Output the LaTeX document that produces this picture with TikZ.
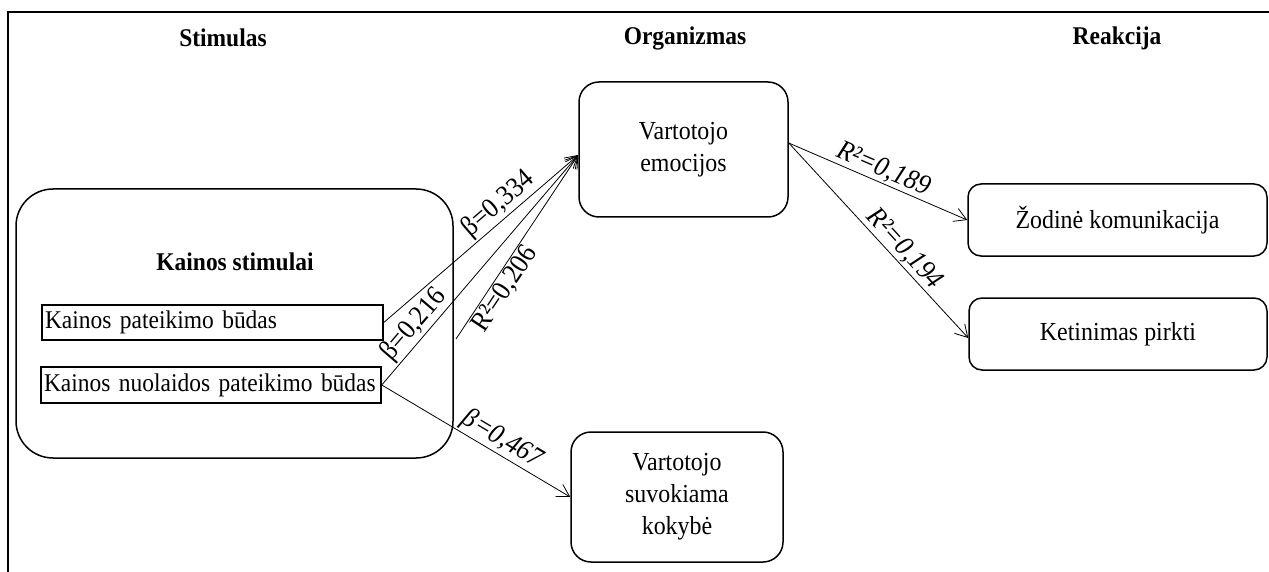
\documentclass[tikz,border=0pt]{standalone}
\usepackage{fontspec}
\setmainfont{Liberation Serif}[FakeStretch=0.92]
\usetikzlibrary{arrows.meta}
\begin{document}
\begin{tikzpicture}[x=1pt,y=-1pt,
  every node/.style={inner sep=0pt},
  frame/.style={line width=1.5pt},
  title/.style={font=\fontsize{25.5}{30}\selectfont\bfseries},
  rbox/.style={draw, line width=1.5pt, rounded corners=#1, align=center, font=\fontsize{26}{32}\selectfont},
  rbox/.default=20pt,
  sbox/.style={draw, line width=1.5pt, inner xsep=3pt, text width=#1, align=left, minimum height=36pt, font=\fontsize{25.5}{30}\selectfont},
  conn/.style={line width=0.8pt, -{Straight Barb[length=12pt,width=14pt,line width=0.8pt]}},
  lab/.style={font=\fontsize{28}{28}\selectfont, sloped, inner sep=1.5pt}
]
\useasboundingbox (0,0) rectangle (1269,572);
% outer frame (cropped on right and bottom)
\draw[frame] (1270,12) -- (8,12) -- (8,573);

% column titles
\node[title] (tstim) at (223,38) {Stimulas};
\node[title] (torg) at (685,38) {Organizmas};
\node[title] (treak) at (1117,38) {Reakcija};

% stimulus group
\node[rbox=37pt, minimum width=437pt, minimum height=269pt] (big) at (234.5,323.5) {};
\node[title] (kst) at (235,262) {Kainos stimulai};
\node[sbox=335pt, minimum height=35pt] (kp) at (212.5,322.5) {Kainos pateikimo būdas};
\node[sbox=334pt] (knp) at (211,385) {Kainos nuolaidos pateikimo būdas};

% organism
\node[rbox, minimum width=209pt, minimum height=135pt] (emo) at (683.5,149.5) {Vartotojo\\emocijos};
\node[rbox, minimum width=212pt, minimum height=130pt] (kok) at (677,497) {Vartotojo\\suvokiama\\kokybė};

% reaction
\node[rbox=13pt, minimum width=299pt, minimum height=72pt] (zod) at (1117.5,220) {Žodinė komunikacija};
\node[rbox=13pt, minimum width=298pt, minimum height=72pt] (ket) at (1118,334) {Ketinimas pirkti};

% connectors
\coordinate (emoin) at ([yshift=-5.5pt]emo.west);
\coordinate (emoout) at ([yshift=6.5pt]emo.east);
\coordinate (rfree) at (456,339);

\draw[conn] (kp.east) -- (emoin) node[lab, pos=0.64, above] {β=0,334};
\draw[conn] (knp.east) -- (emoin) node[lab, pos=0.22, above] {β=0,216};
\draw[conn] (rfree) -- (emoin) node[lab, pos=0.31, below] {R²=0,206};
\draw[conn] (knp.east) -- (kok.west) node[lab, pos=0.6, above] {\itshape β=0,467};
\draw[conn] (emoout) -- (zod.west) node[lab, pos=0.5, above] {\itshape R²=0,189};
\draw[conn] (emoout) -- ([yshift=-4pt]ket.west) node[lab, pos=0.59, above] {\itshape R²=0,194};
\end{tikzpicture}
\end{document}
